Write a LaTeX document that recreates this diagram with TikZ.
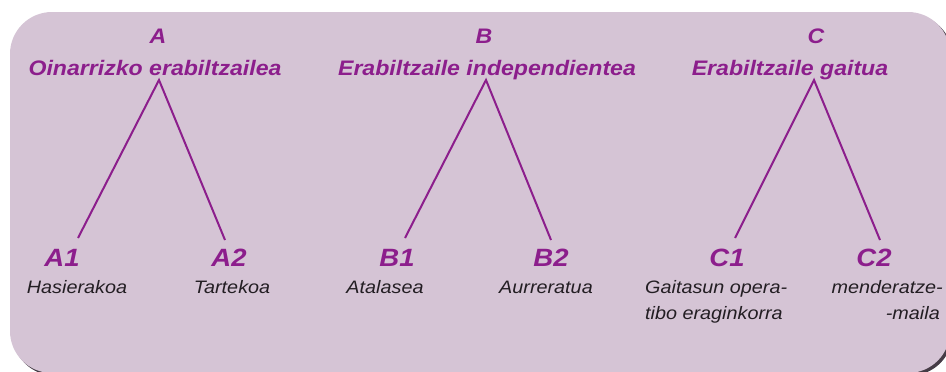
\documentclass[tikz,border=0pt]{standalone}
\usepackage{fontspec}
\setmainfont{Liberation Sans}[FakeStretch=1.1]
\definecolor{boxfill}{RGB}{213,196,213}
\definecolor{pur}{RGB}{140,30,140}
\definecolor{shad}{RGB}{70,60,70}
\definecolor{desccol}{RGB}{35,30,35}
\tikzset{
  title/.style={anchor=base, inner sep=0pt, text=pur, font=\bfseries\itshape\fontsize{21}{24}\selectfont},
  lab/.style={anchor=base, inner sep=0pt, text=pur, font=\bfseries\itshape\fontsize{25}{28}\selectfont},
  desc/.style={anchor=base, inner sep=0pt, text=desccol, font=\itshape\fontsize{18}{22}\selectfont},
  leg/.style={draw=pur, line width=2pt},
}
\begin{document}
\begin{tikzpicture}[x=1pt, y=-1pt]
\useasboundingbox (0,0) rectangle (946,372);
% box with shadow
\fill[shad, rounded corners=42pt] (12.5,14.5) rectangle (952.5,375.5);
\fill[boxfill, rounded corners=42pt] (10,12) rectangle (950,373);

% A
\node[title] (tA) at (158,43) {A};
\node[title] (nA) at (155,75) {Oinarrizko erabiltzailea};
\coordinate (a0) at (159,80);
\node[lab] (A1) at (62,266) {A1};
\node[lab] (A2) at (229,266) {A2};
\coordinate (a1) at (78,238);
\coordinate (a2) at (225,240);
\draw[leg] (a1) -- (a0) -- (a2);
\node[desc] (dA1) at (77,293) {Hasierakoa};
\node[desc] (dA2) at (232,293) {Tartekoa};

% B
\node[title] (tB) at (484,43) {B};
\node[title] (nB) at (487,75) {Erabiltzaile independientea};
\coordinate (b0) at (486,80);
\node[lab] (B1) at (397,266) {B1};
\node[lab] (B2) at (551,266) {B2};
\coordinate (b1) at (405,238);
\coordinate (b2) at (551,240);
\draw[leg] (b1) -- (b0) -- (b2);
\node[desc] (dB1) at (385,293) {Atalasea};
\node[desc] (dB2) at (546,293) {Aurreratua};

% C
\node[title] (tC) at (816,43) {C};
\node[title] (nC) at (790,75) {Erabiltzaile gaitua};
\coordinate (c0) at (814,80);
\node[lab] (C1) at (727,266) {C1};
\node[lab] (C2) at (874,266) {C2};
\coordinate (c1) at (735,238);
\coordinate (c2) at (880,240);
\draw[leg] (c1) -- (c0) -- (c2);
\node[desc, anchor=base west] (dC1a) at (645,293) {Gaitasun opera-};
\node[desc, anchor=base west] (dC1b) at (645,319) {tibo eraginkorra};
\node[desc, anchor=base east] (dC2a) at (943,293) {menderatze-};
\node[desc, anchor=base east] (dC2b) at (940,319) {-maila};
\end{tikzpicture}
\end{document}
